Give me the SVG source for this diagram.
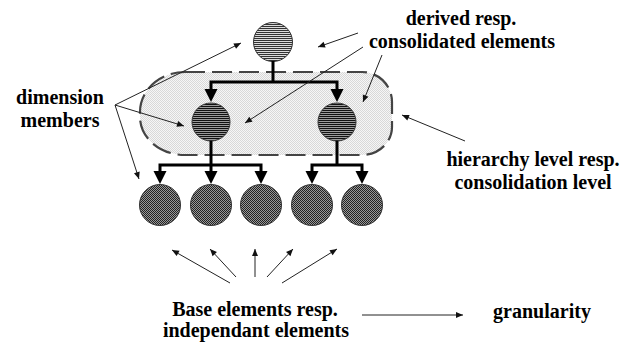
<svg xmlns="http://www.w3.org/2000/svg" width="636" height="343" viewBox="0 0 636 343">
<style>
.t{font-family:"Liberation Serif","Times New Roman",serif;font-weight:bold;font-size:20px;fill:#000;text-anchor:middle}
.thick{fill:none;stroke:#000;stroke-width:3;stroke-linejoin:miter}
.thin{fill:none;stroke:#222;stroke-width:1}
.node{stroke:#333;stroke-width:1}
</style>
<defs>
<pattern id="pTop" width="4" height="2" patternUnits="userSpaceOnUse"><rect width="4" height="2" fill="#dcdcdc"/><rect width="4" height="1" fill="#333"/></pattern>
<pattern id="pMid" width="4" height="2" patternUnits="userSpaceOnUse"><rect width="4" height="2" fill="#9a9a9a"/><rect width="4" height="1" fill="#111"/></pattern>
<pattern id="pBase" width="2" height="2" patternUnits="userSpaceOnUse"><rect width="2" height="2" fill="#999"/><rect width="1" height="1" fill="#222"/><rect x="1" y="1" width="1" height="1" fill="#222"/></pattern>
<pattern id="pRegion" width="2" height="2" patternUnits="userSpaceOnUse"><rect width="2" height="2" fill="#f6f6f6"/><rect width="1" height="1" fill="#d8d8d8"/><rect x="1" y="1" width="1" height="1" fill="#d8d8d8"/></pattern>
<marker id="big" markerUnits="userSpaceOnUse" markerWidth="13" markerHeight="14" refX="0" refY="6.5" orient="auto" overflow="visible"><path d="M0,0 L13,6.5 L0,13 z" fill="#000"/></marker>
<marker id="small" markerUnits="userSpaceOnUse" markerWidth="8" markerHeight="6" refX="7" refY="3" orient="auto" overflow="visible"><path d="M0,0 L7,3 L0,6 z" fill="#111"/></marker>
</defs>
<rect width="636" height="343" fill="#fff"/>
<g id="level-region">
<path d="M185 72 H362 A30 30 0 0 1 392 102 V127 A30 28 0 0 1 362 155 H185 A45 38 0 0 1 140 117 V112 A45 40 0 0 1 185 72 Z" fill="url(#pRegion)" stroke="#444" stroke-width="2.2" stroke-dasharray="20 7"/>
</g>
<g id="node-top"><circle class="node" cx="273" cy="42" r="19.5" fill="url(#pTop)"/></g>
<g id="node-mid-left"><circle class="node" cx="211" cy="122" r="19" fill="url(#pMid)"/></g>
<g id="node-mid-right"><circle class="node" cx="337" cy="122" r="19" fill="url(#pMid)"/></g>
<g id="node-base-1"><circle class="node" cx="160" cy="205" r="20.5" fill="url(#pBase)"/></g>
<g id="node-base-2"><circle class="node" cx="211" cy="205" r="20.5" fill="url(#pBase)"/></g>
<g id="node-base-3"><circle class="node" cx="261" cy="205" r="20.5" fill="url(#pBase)"/></g>
<g id="node-base-4"><circle class="node" cx="312" cy="205" r="20.5" fill="url(#pBase)"/></g>
<g id="node-base-5"><circle class="node" cx="362" cy="205" r="20.5" fill="url(#pBase)"/></g>
<g id="connectors">
<path class="thick" d="M273 61 V82"/>
<path class="thick" d="M273 82 H211 V89" marker-end="url(#big)"/>
<path class="thick" d="M273 82 H337 V89" marker-end="url(#big)"/>
<path class="thick" d="M211 141 V171" marker-end="url(#big)"/>
<path class="thick" d="M211 165 H160 V171" marker-end="url(#big)"/>
<path class="thick" d="M211 165 H261 V171" marker-end="url(#big)"/>
<path class="thick" d="M337 141 V165"/>
<path class="thick" d="M337 165 H312 V171" marker-end="url(#big)"/>
<path class="thick" d="M337 165 H362 V171" marker-end="url(#big)"/>
<line class="thin" x1="115" y1="105" x2="241" y2="43" marker-end="url(#small)"/>
<line class="thin" x1="115" y1="105" x2="184" y2="126" marker-end="url(#small)"/>
<line class="thin" x1="115" y1="105" x2="139" y2="179" marker-end="url(#small)"/>
<line class="thin" x1="358" y1="33" x2="318" y2="47" marker-end="url(#small)"/>
<line class="thin" x1="363" y1="47" x2="245" y2="123" marker-end="url(#small)"/>
<line class="thin" x1="382" y1="55" x2="363" y2="102" marker-end="url(#small)"/>
<line class="thin" x1="465" y1="141" x2="402" y2="115" marker-end="url(#small)"/>
<line class="thin" x1="230" y1="283" x2="172" y2="250" marker-end="url(#small)"/>
<line class="thin" x1="236" y1="277" x2="210" y2="249" marker-end="url(#small)"/>
<line class="thin" x1="255" y1="277" x2="255" y2="249" marker-end="url(#small)"/>
<line class="thin" x1="267" y1="277" x2="293" y2="249" marker-end="url(#small)"/>
<line class="thin" x1="282" y1="283" x2="337" y2="249" marker-end="url(#small)"/>
<line class="thin" x1="362" y1="315" x2="463" y2="315" marker-end="url(#small)"/>
</g>
<g id="labels">
<text class="t" x="461" y="25">derived resp.</text>
<text class="t" x="462" y="48">consolidated elements</text>
<text class="t" x="60" y="104">dimension</text>
<text class="t" x="60" y="127">members</text>
<text class="t" x="533" y="166">hierarchy level resp.</text>
<text class="t" x="533" y="189">consolidation level</text>
<text class="t" x="255" y="316">Base elements resp.</text>
<text class="t" x="256" y="337">independant elements</text>
<text class="t" x="542" y="318">granularity</text>
</g>
</svg>
